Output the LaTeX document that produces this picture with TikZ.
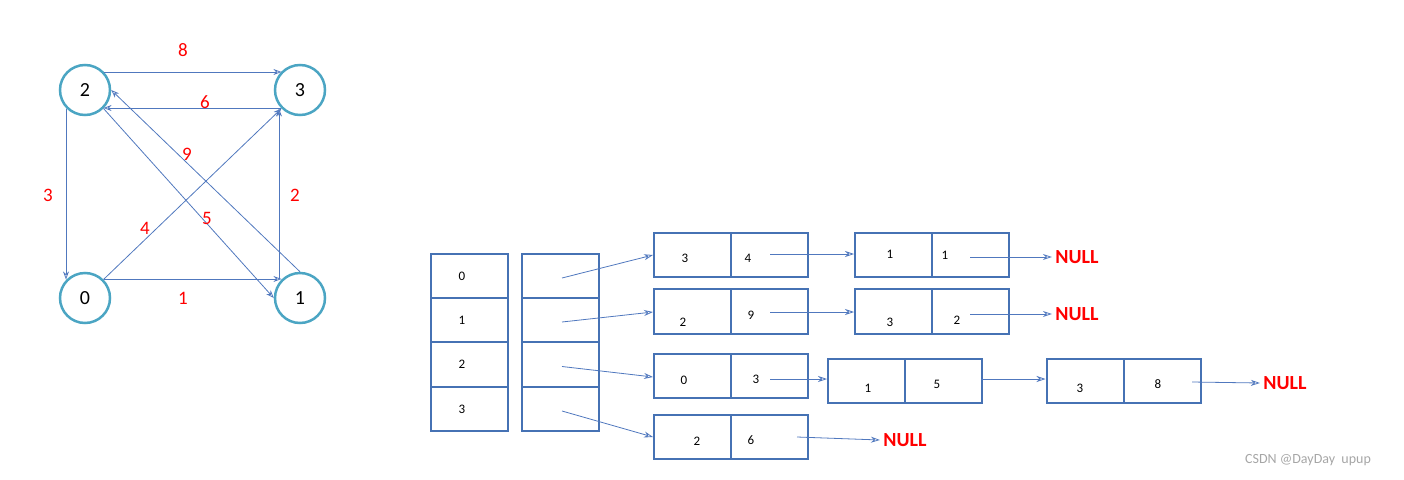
\documentclass[tikz,border=0pt]{standalone}
\usepackage{fontspec}
\setmainfont{Carlito}
\usetikzlibrary{arrows.meta}
\definecolor{ring}{RGB}{75,165,195}
\definecolor{boxc}{RGB}{70,114,180}
\definecolor{arrc}{RGB}{80,120,190}
\tikzset{
  vert/.style={circle,draw=ring,line width=2.5pt,minimum size=50pt,inner sep=0pt,font=\fontsize{20}{22}\selectfont},
  edge/.style={draw=arrc,line width=0.8pt,-{Stealth[length=8pt,width=6pt,open]}},
  wt/.style={text=red,font=\fontsize{19}{21}\selectfont},
  cell/.style={rectangle,draw=boxc,line width=2pt,minimum width=77pt,minimum height=44.5pt,inner sep=0pt},
  txt/.style={font=\fontsize{13}{15}\selectfont},
  nul/.style={text=red,font=\bfseries\fontsize{20}{22}\selectfont},
  ptr/.style={draw=arrc,line width=0.8pt,-{Stealth[length=9pt,width=6pt,open]}}
}
\begin{document}
\begin{tikzpicture}[x=1pt,y=-1pt]
\useasboundingbox (0,0) rectangle (1404,479);

% the graph
\node[vert] (v2) at (85,90) {2};
\node[vert] (v3) at (300,90) {3};
\node[vert] (v0) at (85,298) {0};
\node[vert] (v1) at (300,298) {1};

\draw[edge] (v2.north east |- 0,72) -- (v3.north west |- 0,72);
\draw[edge] (v3.south west |- 0,108) -- (v2.south east |- 0,108);
\draw[edge] (v2.south west -| 66,0) -- (v0.north west -| 66,0);
\draw[edge] (v1.north east -| 279,0) -- (v1.north east -| 279,0) -- (v3.south east -| 279,0);
\draw[edge] (v0.north east |- 0,279) -- (v1.north west |- 0,279);
\draw[edge] (v0.north east) -- (v3.south west);
\draw[edge] (v1.north) -- (v2.east);
\draw[edge] (v2.south east) -- (v1.west);

\node[wt] (w8) at (183,50) {8};
\node[wt] (w6) at (205,102) {6};
\node[wt] (w3) at (48,195) {3};
\node[wt] (w2) at (295,195) {2};
\node[wt] (w1) at (183,298) {1};
\node[wt] (w4) at (145,228) {4};
\node[wt] (w9) at (187,154) {9};
\node[wt] (w5) at (207,218) {5};

% vertex array and pointer array
\foreach \i/\y in {0/276,1/320,2/364.5,3/409} {
  \node[cell] (a\i) at (469.5,\y) {};
  \node[txt,anchor=west] at (455,\y) {\i};
  \node[cell] (p\i) at (560.5,\y) {};
  \coordinate (s\i) at (562,\y+2);
}

% list cells
\node[cell] (e00) at (692.5,255) {}; \node[cell] (e01) at (769.5,255) {};
\node[cell] (e02) at (893.5,255) {}; \node[cell] (e03) at (970.5,255) {};
\node[cell] (e10) at (692.5,311.5) {}; \node[cell] (e11) at (769.5,311.5) {};
\node[cell] (e12) at (893.5,311.5) {}; \node[cell] (e13) at (970.5,311.5) {};
\node[cell] (e20) at (692.5,376) {}; \node[cell] (e21) at (769.5,376) {};
\node[cell] (e22) at (866.5,381) {}; \node[cell] (e23) at (943.5,381) {};
\node[cell] (e24) at (1085,381) {}; \node[cell] (e25) at (1162,381) {};
\node[cell] (e30) at (692.5,437) {}; \node[cell] (e31) at (769.5,437) {};

\node[txt] at (685,258) {3};  \node[txt] at (748,258) {4};
\node[txt] at (890,254) {1};  \node[txt] at (945,255) {1};
\node[txt] at (683,322) {2};  \node[txt] at (751,315) {9};
\node[txt] at (890,322) {3};  \node[txt] at (957,320) {2};
\node[txt] at (684,380) {0};  \node[txt] at (756,379) {3};
\node[txt] at (868,388) {1};  \node[txt] at (937,384) {5};
\node[txt] at (1080,388) {3}; \node[txt] at (1158,384) {8};
\node[txt] at (697,441) {2};  \node[txt] at (751,440) {6};

\node[nul] (n0) at (1077,257) {NULL};
\node[nul] (n1) at (1077,314) {NULL};
\node[nul] (n2) at (1285,383) {NULL};
\node[nul] (n3) at (905,440) {NULL};

% head pointers
\draw[ptr] (s0) -- (e00.west |- 0,255);
\draw[ptr] (s1) -- (e10.west |- 0,312);
\draw[ptr] (s2) -- (e20.west |- 0,377);
\draw[ptr] (s3) -- (e30.west |- 0,437);

% next pointers
\draw[ptr] (770,254) -- (e02.west |- 0,254);
\draw[ptr] (970,257) -- (n0.west);
\draw[ptr] (770,312) -- (e12.west |- 0,312);
\draw[ptr] (970,314) -- (n1.west);
\draw[ptr] (770,379) -- (e22.west |- 0,379);
\draw[ptr] (981,379) -- (e24.west |- 0,379);
\draw[ptr] (1192,382) -- (n2.west);
\draw[ptr] (797,437) -- (n3.west);

\node[text=gray!70,font=\fontsize{14}{16}\selectfont] (wm) at (1308,460) {CSDN @DayDay\ \ upup};
\end{tikzpicture}
\end{document}
